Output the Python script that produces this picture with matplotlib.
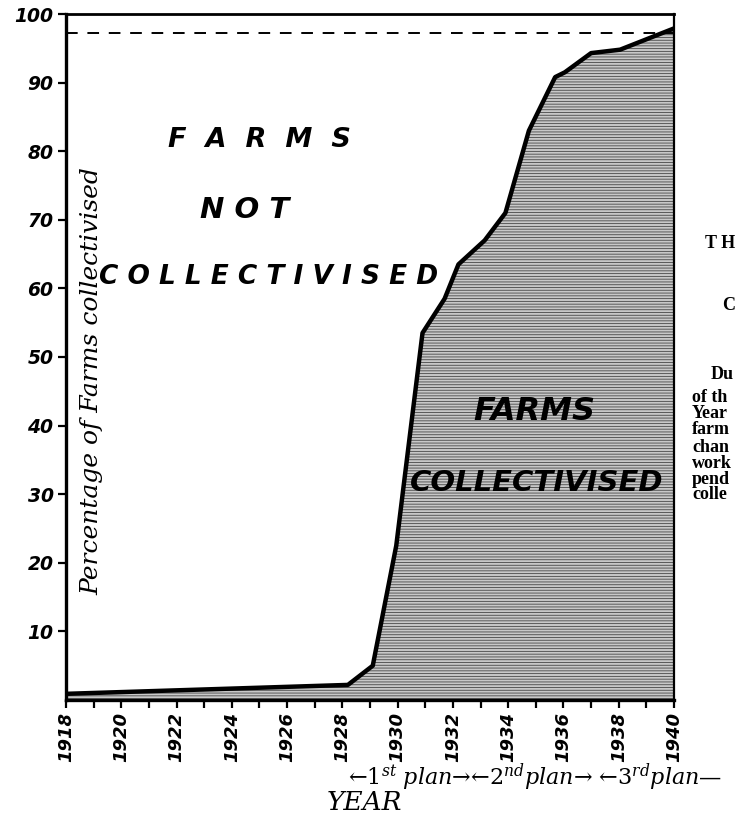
import matplotlib
matplotlib.use('Agg')
import matplotlib.pyplot as plt
import matplotlib.transforms as mtransforms
import numpy as np

plt.rcParams.update({
    'font.family': 'DejaVu Sans',
    'mathtext.fontset': 'dejavuserif',
    'mathtext.default': 'it',
    'hatch.linewidth': 0.6,
})

# --- Data: percentage of peasant farms collectivised ---
years = [1918, 1928.2, 1929.1, 1929.95, 1930.9, 1931.7, 1932.2, 1933.15,
         1933.9, 1934.75, 1935.7, 1936.05, 1937.0, 1938.05, 1940.0]
pct = [0.9, 2.2, 5.0, 22.5, 53.5, 58.5, 63.5, 67.0,
       71.0, 83.0, 90.8, 91.5, 94.3, 94.8, 97.9]
target = 97.2

year_ticks = list(range(1918, 1941, 2))
pct_ticks = list(range(10, 101, 10))

plan_text = '←$1^{st}$ plan→←$2^{nd}$plan→ ←$3^{rd}$plan—'
plan_start = 1928.2

side_lines = [('T H', 705, 243), ('C', 722, 305), ('Du', 711, 375),
              ('of th', 692, 397), ('Year', 692, 414), ('farm', 692, 430),
              ('chan', 692, 447), ('work', 692, 463), ('pend', 692, 479),
              ('colle', 692, 495)]

# --- Plot ---
fig = plt.figure(figsize=(7.35, 8.16), dpi=100)
ax = fig.add_axes([66/735, 116/816, 608/735, 686/816])

ax.fill_between(years, 0, pct, facecolor='#c8c8c8', edgecolor='#474747',
                hatch='------', linewidth=0, zorder=1)
ax.plot(years, pct, color='black', lw=3.2, solid_joinstyle='round',
        solid_capstyle='butt', zorder=3)
ax.axhline(target, color='black', lw=1.4, ls=(0, (6, 5)), zorder=2)

ax.set_xlim(1918, 1940)
ax.set_ylim(0, 100)

for side, lw in [('left', 2.4), ('bottom', 2.4), ('top', 2.0), ('right', 1.6)]:
    ax.spines[side].set_linewidth(lw)

ax.set_xticks(year_ticks)
ax.set_xticklabels([str(y) for y in year_ticks], rotation=90,
                   fontsize=13, fontstyle='oblique', fontweight='bold')
ax.set_xticks(range(1918, 1941), minor=True)
ax.set_yticks(pct_ticks)
ax.set_yticklabels([str(p) for p in pct_ticks], fontsize=13.5,
                   fontstyle='oblique', fontweight='bold')
ax.tick_params(axis='both', which='both', direction='out', width=1.6,
               length=6, color='black', pad=3)

# region labels
ax.text(1925.0, 81.6, 'F  A  R  M  S', fontsize=19.5, fontstyle='oblique',
        fontweight='semibold', ha='center', va='center')
ax.text(1924.46, 71.4, 'N O T', fontsize=21, fontstyle='oblique',
        fontweight='bold', ha='center', va='center')
ax.text(1925.34, 61.7, 'C O L L E C T I V I S E D', fontsize=19,
        fontstyle='oblique', fontweight='bold', ha='center', va='center')
ax.text(1934.95, 42.0, 'FARMS', fontsize=23, fontstyle='oblique',
        fontweight='heavy', ha='center', va='center', zorder=4)
ax.text(1935.04, 31.6, 'COLLECTIVISED', fontsize=21, fontstyle='oblique',
        fontweight='heavy', ha='center', va='center', zorder=4)

ax.text(0.043, 0.465, 'Percentage of Farms collectivised', transform=ax.transAxes,
        family='DejaVu Serif', fontstyle='italic', fontsize=18,
        rotation=90, ha='center', va='center')

# plan periods under the year axis
trans = mtransforms.blended_transform_factory(ax.transData, ax.transAxes)
ax.text(plan_start, -0.113, plan_text, transform=trans, family='DejaVu Serif',
        fontstyle='italic', fontsize=16, ha='left', va='center',
        clip_on=False)

fig.text(364/735, 1 - 803/816, 'YEAR', family='DejaVu Serif',
         fontstyle='italic', fontsize=19, ha='center', va='center')

# neighbouring column of text
for txt, px, py in side_lines:
    fig.text(px/735, 1 - py/816, txt, family='Liberation Serif',
             fontweight='bold', fontsize=13, ha='left', va='center')

fig.savefig('out.png', dpi=100)
plt.close(fig)
